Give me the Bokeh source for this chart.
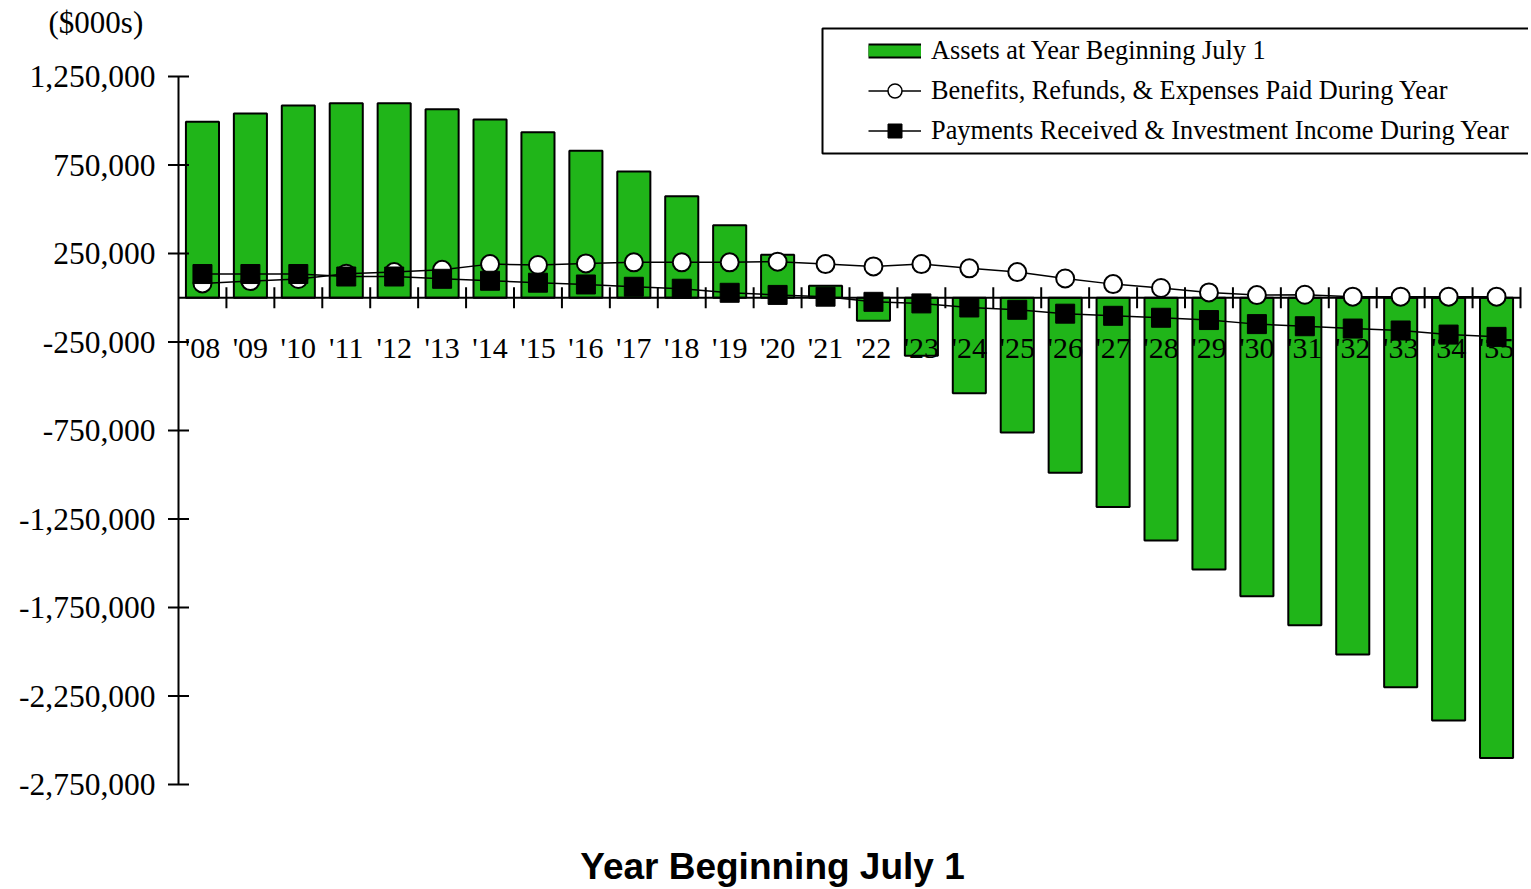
import numpy as np
from bokeh.plotting import figure
from bokeh.models import (Range1d, Label, Legend, LegendItem,
                          ColumnDataSource, BoxAnnotation)
from bokeh.core.properties import value
from bokeh.embed import file_html
from bokeh.resources import INLINE

years = ["'08", "'09", "'10", "'11", "'12", "'13", "'14", "'15", "'16", "'17",
         "'18", "'19", "'20", "'21", "'22", "'23", "'24", "'25", "'26", "'27",
         "'28", "'29", "'30", "'31", "'32", "'33", "'34", "'35"]
assets = [995000, 1041000, 1086000, 1099000, 1099000, 1065000, 1007000, 935000,
          830000, 713000, 573000, 409000, 243000, 68000, -130000, -328000,
          -539000, -762000, -988000, -1182000, -1371000, -1535000, -1686000,
          -1850000, -2015000, -2200000, -2389000, -2600000]
benefits = [81000, 94000, 106000, 136000, 145000, 158000, 190000, 185000,
            194000, 200000, 200000, 200000, 204000, 190000, 177000, 190000,
            166000, 145000, 109000, 77000, 55000, 30000, 15000, 17000,
            6000, 6000, 6000, 6000]
payments = [134000, 134000, 134000, 120000, 120000, 107000, 96000, 85000,
            75000, 62000, 51000, 28000, 16000, 6000, -23000, -32000,
            -55000, -68000, -90000, -102000, -113000, -126000, -149000, -161000,
            -174000, -185000, -208000, -221000]
y_ticks = [1250000, 750000, 250000, -250000, -750000, -1250000, -1750000,
           -2250000, -2750000]
y_tick_labels = [f"{t:,}" for t in y_ticks]

SERIF = "Liberation Serif"
GREEN = "#20B519"

# canvas and plot-area geometry (pixels)
W, H = 1528, 888
PL, PR, PT, PB = 178, 1520, 76, 784

n = len(years)
ppx = (PR - PL) / n
ppy = (PB - PT) / (y_ticks[0] - y_ticks[-1])
x_range = Range1d(-PL / ppx, n + (W - PR) / ppx)
y_range = Range1d(y_ticks[-1] - (H - PB) / ppy, y_ticks[0] + PT / ppy)

xc = np.arange(n) + 0.5
src = ColumnDataSource(dict(x=xc, label=years, assets=assets,
                            benefits=benefits, payments=payments))
bounds = ColumnDataSource(dict(x=np.arange(1, n + 1), y=np.zeros(n)))
yt = ColumnDataSource(dict(x=np.zeros(len(y_ticks)), y=y_ticks, label=y_tick_labels))

p = figure(width=W, height=H, output_backend="svg", toolbar_location=None,
           x_range=x_range, y_range=y_range,
           x_axis_location=None, y_axis_location=None,
           min_border=0, min_border_left=0, min_border_right=0,
           min_border_top=0, min_border_bottom=0)
p.outline_line_color = None
p.xgrid.visible = False
p.ygrid.visible = False
p.background_fill_color = "white"

bars = p.vbar(x="x", top="assets", bottom=0, width=0.69, fill_color=GREEN,
              line_color="black", line_width=2, source=src)

# y axis (drawn by hand so that the plot area can hold all annotations)
p.segment(x0=0, y0=y_ticks[-1], x1=0, y1=y_ticks[0], line_color="black", line_width=2)
p.scatter(x="x", y="y", marker="dash", size=21, line_color="black",
          line_width=2, source=yt)
p.text(x="x", y="y", text="label", x_offset=-23, text_align="right",
       text_baseline="middle", text_font=value(SERIF), text_font_size="31.5px",
       text_color="black", source=yt)

# x axis at zero
p.segment(x0=0, y0=0, x1=n, y1=0, line_color="black", line_width=2)
p.scatter(x="x", y="y", marker="dash", angle=np.pi / 2, size=21,
          line_color="black", line_width=2, source=bounds)
p.text(x="x", y=0, text="label", y_offset=50, text_align="center",
       text_baseline="middle", text_font=value(SERIF), text_font_size="30px",
       text_color="black", source=src)

p.line(x="x", y="benefits", line_color="black", line_width=1.5, source=src)
p.line(x="x", y="payments", line_color="black", line_width=1.5, source=src)
p.scatter(x="x", y="benefits", marker="circle", size=18, fill_color="white",
          line_color="black", line_width=2, source=src)
p.scatter(x="x", y="payments", marker="square", size=19, fill_color="black",
          line_color="black", line_width=1, source=src)

# legend-only renderers (a single undrawn point)
nan = ColumnDataSource(dict(x=[np.nan], y=[np.nan]))
la_out = p.line(x="x", y="y", line_color="black", line_width=15, source=nan)
la_in = p.line(x="x", y="y", line_color=GREEN, line_width=11, source=nan)
lb = p.line(x="x", y="y", line_color="black", line_width=1.5, source=nan)
sb = p.scatter(x="x", y="y", marker="circle", fill_color="white",
               line_color="black", line_width=1.5, source=nan)
lp = p.line(x="x", y="y", line_color="black", line_width=1.5, source=nan)
sp = p.scatter(x="x", y="y", marker="square", fill_color="black",
               line_color="black", source=nan)

legend = Legend(items=[
    LegendItem(label="Assets at Year Beginning July 1", renderers=[la_out, la_in]),
    LegendItem(label="Benefits, Refunds, & Expenses Paid During Year", renderers=[lb, sb]),
    LegendItem(label="Payments Received & Investment Income During Year", renderers=[lp, sp]),
], location=(868, H - 148))
legend.padding = 10
legend.spacing = 5
legend.label_height = 26
legend.glyph_height = 35
legend.glyph_width = 53
legend.label_standoff = 10
legend.label_text_font = SERIF
legend.label_text_font_size = "26.3px"
legend.label_text_color = "black"
legend.border_line_color = None
legend.background_fill_alpha = 0
legend.margin = 0
p.add_layout(legend)

box = BoxAnnotation(left=822, right=W + 20, top=H - 28, bottom=H - 153,
                    left_units="screen", right_units="screen",
                    top_units="screen", bottom_units="screen",
                    fill_alpha=0, line_color="black", line_width=2, line_alpha=1)
p.add_layout(box)

p.add_layout(Label(x=48, y=H - 22, x_units="screen", y_units="screen",
                   text="($000s)", text_font=SERIF, text_font_size="31px",
                   text_baseline="middle", text_color="black"))
p.add_layout(Label(x=772, y=H - 866, x_units="screen", y_units="screen",
                   text="Year Beginning July 1", text_font="Liberation Sans",
                   text_font_style="bold", text_font_size="37px",
                   text_align="center", text_baseline="middle", text_color="black"))

open("out.html", "w").write(file_html(p, INLINE))
